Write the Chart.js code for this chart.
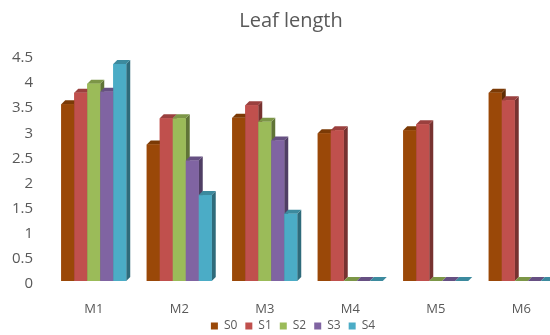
<!DOCTYPE html>
<html>
<head>
<meta charset="utf-8">
<script src="https://cdn.jsdelivr.net/npm/chart.js@4/dist/chart.umd.min.js"></script>
<style>
  html, body { margin: 0; padding: 0; background: #ffffff; overflow: hidden; }
  #wrap { width: 550px; height: 335px; overflow: hidden; position: relative; }
  #wrap canvas { position: absolute; left: 0; top: 0; }
</style>
</head>
<body>
<div id="wrap"><canvas id="leafChart" width="564" height="335" style="width:564px;height:335px"></canvas></div>
<script>
// Leaf length per sample group (M1..M6) and stage (S0..S4)
const categories = ['M1', 'M2', 'M3', 'M4', 'M5', 'M6'];
const seriesNames = ['S0', 'S1', 'S2', 'S3', 'S4'];
const s0 = [3.52, 2.72, 3.25, 2.94, 3.00, 3.75];
const s1 = [3.75, 3.24, 3.50, 3.00, 3.12, 3.60];
const s2 = [3.93, 3.24, 3.17, 0, 0, 0];
const s3 = [3.77, 2.40, 2.80, 0, 0, 0];
const s4 = [4.32, 1.71, 1.34, 0, 0, 0];
const seriesValues = [s0, s1, s2, s3, s4];
const seriesColors = ['#9a4808', '#c0504d', '#9bbb59', '#8064a2', '#4bacc6'];
const yMin = 0, yMax = 4.5, yStep = 0.5;

const TEXT = '#595959';
const FONT = "'Open Sans', 'DejaVu Sans', sans-serif";
const DEPTH_X = 4, DEPTH_Y = 4;
// The plot runs past the right edge of the visible frame; title and legend
// are nudged so they sit centred over the visible part.
const TITLE_SHIFT = 9, LEGEND_SHIFT = 11, LEGEND_LIFT = 7;

function shade(hex, f) {
  const n = parseInt(hex.slice(1), 16);
  const r = Math.round(((n >> 16) & 255) * f);
  const g = Math.round(((n >> 8) & 255) * f);
  const b = Math.round((n & 255) * f);
  return 'rgb(' + r + ',' + g + ',' + b + ')';
}

function fillPoly(ctx, pts) {
  ctx.beginPath();
  ctx.moveTo(pts[0][0], pts[0][1]);
  for (let i = 1; i < pts.length; i++) ctx.lineTo(pts[i][0], pts[i][1]);
  ctx.closePath();
  ctx.fill();
}

// Gives each bar a side face and a top cap so the columns look like blocks.
// Bars are painted category by category, left to right, so a neighbour's
// front face hides the part of the side face behind it.
const depthBars = {
  id: 'depthBars',
  afterDatasetsDraw(chart) {
    const ctx = chart.ctx;
    const metas = chart.getSortedVisibleDatasetMetas();
    const n = chart.data.labels.length;
    ctx.save();
    for (let j = 0; j < n; j++) {
      metas.forEach(meta => {
        const el = meta.data[j];
        if (!el) return;
        const p = el.getProps(['x', 'y', 'base', 'width'], true);
        const col = chart.data.datasets[meta.index].backgroundColor;
        const l = p.x - p.width / 2, r = p.x + p.width / 2;
        const t = Math.min(p.y, p.base), b = Math.max(p.y, p.base);
        ctx.fillStyle = shade(col, 0.62);
        fillPoly(ctx, [[r, t], [r + DEPTH_X, t - DEPTH_Y], [r + DEPTH_X, b - DEPTH_Y], [r, b]]);
        ctx.fillStyle = shade(col, 0.8);
        fillPoly(ctx, [[l, t], [l + DEPTH_X, t - DEPTH_Y], [r + DEPTH_X, t - DEPTH_Y], [r, t]]);
        ctx.fillStyle = col;
        ctx.fillRect(l, t, r - l, b - t);
      });
    }
    ctx.restore();
  }
};

const blockShift = {
  id: 'blockShift',
  afterLayout(chart) {
    if (chart.titleBlock) {
      chart.titleBlock.left += TITLE_SHIFT;
      chart.titleBlock.right += TITLE_SHIFT;
    }
    if (chart.legend) {
      chart.legend.left += LEGEND_SHIFT;
      chart.legend.right += LEGEND_SHIFT;
      chart.legend.top -= LEGEND_LIFT;
      chart.legend.bottom -= LEGEND_LIFT;
    }
  }
};

const datasets = seriesNames.map((name, i) => ({
  label: name,
  data: seriesValues[i],
  backgroundColor: seriesColors[i],
  borderWidth: 0,
  categoryPercentage: 0.76,
  barPercentage: 1.0
}));

new Chart(document.getElementById('leafChart'), {
  type: 'bar',
  data: { labels: categories, datasets: datasets },
  plugins: [depthBars, blockShift],
  options: {
    responsive: false,
    animation: false,
    devicePixelRatio: 1,
    layout: { padding: { left: 0, right: 0, top: 0, bottom: -14 } },
    plugins: {
      title: {
        display: true,
        text: 'Leaf length',
        color: TEXT,
        font: { family: FONT, size: 20, weight: 'normal' },
        padding: { top: 9, bottom: 22 }
      },
      legend: {
        position: 'bottom',
        labels: {
          boxWidth: 7,
          boxHeight: 7,
          padding: 8,
          color: TEXT,
          font: { family: FONT, size: 12 }
        }
      },
      tooltip: { enabled: false }
    },
    scales: {
      x: {
        grid: { display: false, drawTicks: false },
        border: { display: false },
        ticks: { color: TEXT, font: { family: FONT, size: 13 }, padding: 20 },
        afterFit(scale) { scale.height = 38; }
      },
      y: {
        min: yMin,
        max: yMax,
        grid: { display: false, drawTicks: false },
        border: { display: false },
        ticks: {
          stepSize: yStep,
          color: TEXT,
          font: { family: FONT, size: 15 },
          padding: 18,
          labelOffset: 3,
          callback: (v) => String(v)
        },
        afterFit(scale) { scale.width = 51; }
      }
    }
  }
});
</script>
</body>
</html>
